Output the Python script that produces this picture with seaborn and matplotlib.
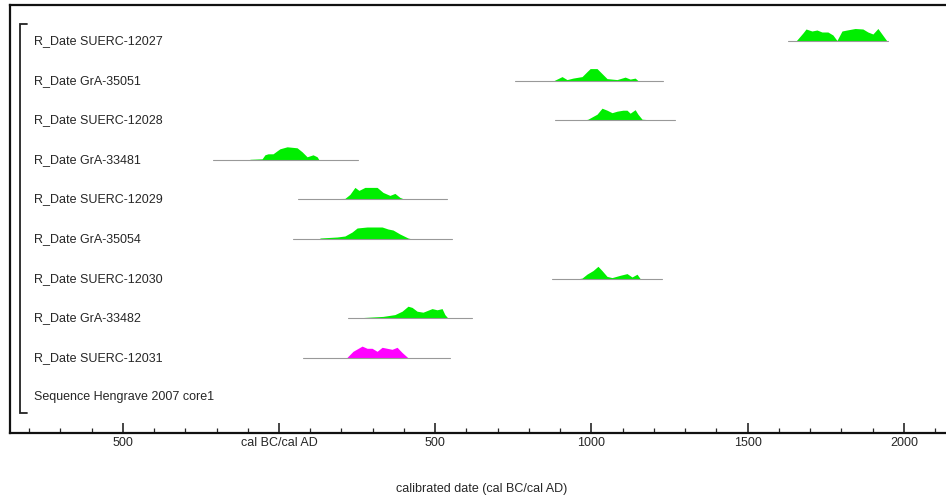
import numpy as np
import matplotlib
matplotlib.use("Agg")
import matplotlib.pyplot as plt
import seaborn as sns

# sample names, top to bottom
labels = ["R_Date SUERC-12027", "R_Date GrA-35051", "R_Date SUERC-12028",
          "R_Date GrA-33481", "R_Date SUERC-12029", "R_Date GrA-35054",
          "R_Date SUERC-12030", "R_Date GrA-33482", "R_Date SUERC-12031"]
sequence_label = "Sequence Hengrave 2007 core1"

# full plotted range of each distribution (cal years, BC negative)
ranges = [(1629, 1949), (755, 1229), (883, 1268), (-211, 253), (61, 538),
          (45, 554), (874, 1226), (221, 618), (77, 547)]

# posterior profiles: years and relative density
years_12027 = [1655, 1677, 1687, 1706, 1722, 1738, 1757, 1773, 1786, 1802, 1818, 1844, 1869, 1885, 1901, 1917, 1946]
dens_12027 = [0, 8, 12, 10, 11, 9, 9, 6, 0.5, 10, 11, 12.5, 12, 9, 7, 12.5, 0]
years_35051 = [880, 906, 922, 941, 970, 986, 996, 1018, 1034, 1050, 1082, 1108, 1124, 1140, 1149]
dens_35051 = [0, 4, 1, 2.5, 4, 9, 12, 12, 7, 2, 1, 3.5, 1.5, 2.5, 0]
years_12028 = [975, 989, 1018, 1034, 1050, 1066, 1082, 1101, 1114, 1124, 1140, 1149, 1162, 1204]
dens_12028 = [0, 1, 6, 12, 10, 7.5, 9, 10, 10, 7, 10.5, 6, 1, 0]
years_33481 = [-93, -54, -45, -35, -19, -6, 3, 26, 58, 74, 90, 109, 122, 128]
dens_33481 = [0.5, 1, 5, 6, 6, 9, 11, 13, 12, 8, 3, 5, 3, 0]
years_12029 = [131, 211, 227, 243, 256, 275, 314, 333, 355, 371, 387, 403]
dens_12029 = [0.5, 1, 5, 12, 9, 12, 12, 7, 4, 6, 2, 0]
years_35054 = [131, 186, 211, 234, 250, 282, 330, 349, 365, 387, 413, 426]
dens_35054 = [1, 2, 3, 7, 11, 12, 12, 10, 9, 5, 1, 0]
years_12030 = [960, 970, 986, 1005, 1021, 1034, 1050, 1066, 1092, 1114, 1130, 1146, 1156]
dens_12030 = [0, 0.5, 4.5, 8, 12.3, 8, 2.2, 1, 3.3, 5, 1.6, 4.4, 0]
years_33482 = [259, 333, 371, 394, 413, 426, 442, 461, 490, 506, 522, 531, 541]
dens_33482 = [0.5, 1.8, 3.6, 7, 12, 10.8, 7, 6, 9.6, 8.4, 9.6, 3.6, 0]
years_12031 = [218, 237, 266, 282, 298, 314, 330, 346, 362, 378, 394, 413]
dens_12031 = [0.5, 6.5, 11.7, 9.5, 9.5, 6.5, 10.5, 9.5, 8.5, 10.5, 5.3, 0]

profiles = [(years_12027, dens_12027), (years_35051, dens_35051), (years_12028, dens_12028),
            (years_33481, dens_33481), (years_12029, dens_12029), (years_35054, dens_35054),
            (years_12030, dens_12030), (years_33482, dens_33482), (years_12031, dens_12031)]
fill_colors = ["#00ee00"] * 8 + ["#ff00ff"]

tick_years = [-500, 0, 500, 1000, 1500, 2000]
tick_labels = ["500", "cal BC/cal AD", "500", "1000", "1500", "2000"]

sns.set_style("white")
plt.rcParams["font.family"] = ["Liberation Sans", "DejaVu Sans"]

fig = plt.figure(figsize=(9.46, 5), dpi=100)
ax = fig.add_axes([10 / 946, 67 / 500, 936 / 946, 428 / 500])

row_gap = 39.6
scale = 1 / row_gap  # one density unit ~ one pixel

label_x = -784
for i, ((lo, hi), (yrs, d)) in enumerate(zip(ranges, profiles)):
    base = i
    sns.lineplot(x=[lo, hi], y=[base, base], ax=ax, color="#999999", lw=0.8)
    h = base - np.array(d) * scale
    ax.fill_between(yrs, base, h, color=fill_colors[i], lw=0)
    ax.text(label_x, base, labels[i], fontsize=9, va="center", ha="left")

ax.text(label_x, len(labels), sequence_label, fontsize=9, va="center", ha="left")

# sequence bracket
bx = -829
ax.plot([bx + 22, bx, bx, bx + 22], [-0.43, -0.43, 9.39, 9.39], color="#222222", lw=1.3,
        solid_joinstyle="miter")

ax.set_xlim(-861, 2135)
ax.set_ylim((433 - 41) / row_gap, (5 - 41) / row_gap)
ax.set_yticks([])

ax.set_xticks(tick_years)
ax.set_xticklabels(tick_labels, fontsize=9)
ax.set_xticks(np.arange(-800, 2101, 100), minor=True)
ax.tick_params(axis="x", which="major", direction="in", length=7, width=1.2, pad=3, bottom=True)
ax.tick_params(axis="x", which="minor", direction="in", length=3.5, width=0.9, bottom=True)

for side in ["left", "top", "bottom"]:
    ax.spines[side].set_visible(True)
    ax.spines[side].set_linewidth(1.6)
    ax.spines[side].set_color("#111111")
ax.spines["right"].set_visible(False)

fig.text(482 / 946, 1 - 489 / 500, "calibrated date (cal BC/cal AD)", fontsize=9,
         ha="center", va="center")

fig.savefig("out.png", dpi=100)
